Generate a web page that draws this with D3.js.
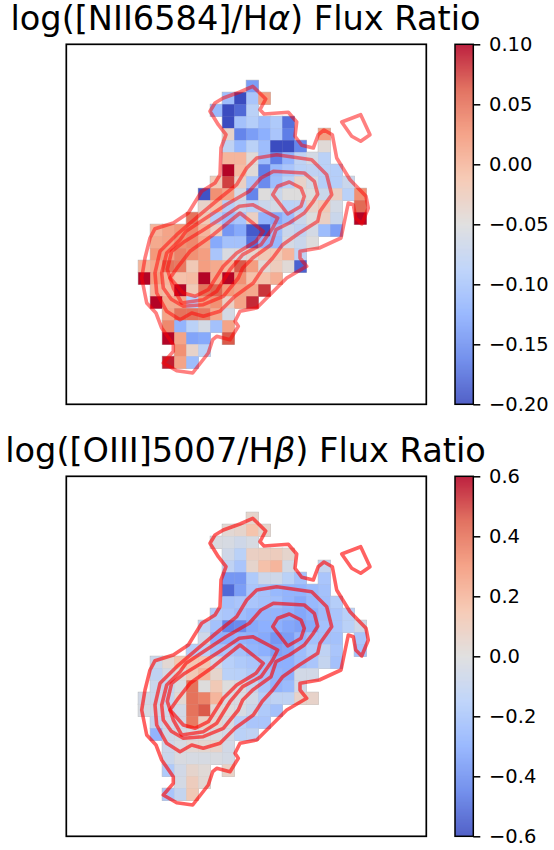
<!DOCTYPE html>
<meta charset="utf-8">
<style>
  body { margin: 0; background: #fff; }
  text { font-family: "DejaVu Sans", sans-serif; fill: #000; }
</style>

<!-- Load d3.js -->
<script src="https://cdnjs.cloudflare.com/ajax/libs/d3/7.8.5/d3.min.js"></script>

<div id="my_dataviz"></div>

<script>

// map cells, one row per entry: [row, first column, values]  (null = no data)
var niiRows = [
  [3, 15, [-0.14]],
  [4, 13, [-0.11, -0.20, -0.10, 0.02]],
  [5, 12, [-0.115, -0.20, -0.18, -0.085]],
  [6, 13, [-0.20, -0.105, -0.09, -0.11, -0.095, -0.175]],
  [7, 13, [-0.035, -0.16, -0.14, -0.125, -0.10, -0.165, null, null, 0.02]],
  [8, 13, [-0.08, -0.115, -0.085, -0.11, -0.20, -0.20, -0.16, null, -0.045]],
  [9, 13, [0.0, 0.0, -0.045, -0.11, -0.165, -0.12, -0.08, -0.06, -0.085]],
  [10, 13, [0.10, -0.005, -0.045, -0.165, -0.115, -0.10, -0.085, -0.08, -0.085, -0.09]],
  [11, 12, [-0.02, 0.075, -0.03, -0.10, -0.155, -0.11, -0.085, -0.035, -0.06, -0.09, -0.09, -0.07]],
  [12, 11, [-0.195, 0.03, 0.015, -0.06, -0.16, -0.05, -0.07, -0.05, -0.05, -0.05, -0.07, -0.03, -0.085, 0.03]],
  [13, 11, [-0.035, -0.01, -0.09, -0.07, -0.085, -0.07, -0.06, -0.085, -0.08, -0.035, -0.02, -0.06, null, 0.055]],
  [14, 10, [0.05, -0.02, -0.09, -0.11, -0.10, -0.03, -0.12, -0.13, -0.11, -0.07, -0.05, -0.03, -0.07, null, 0.10]],
  [15, 7, [0.0, 0.015, 0.025, 0.035, 0.0, -0.03, -0.145, -0.13, -0.19, -0.20, -0.11, -0.07, -0.08, -0.06, -0.11, -0.14]],
  [16, 7, [0.01, 0.015, 0.03, 0.035, 0.01, -0.13, -0.105, -0.105, -0.175, -0.12, -0.115, -0.06, -0.07, -0.05]],
  [17, 7, [0.025, 0.02, 0.04, 0.03, 0.02, -0.10, -0.055, -0.055, -0.04, -0.02, -0.02, 0.0, -0.08]],
  [18, 6, [0.0, 0.01, 0.05, 0.045, -0.02, 0.02, 0.01, 0.0, 0.065, 0.02, -0.045, -0.025, -0.045, -0.185]],
  [19, 6, [0.1, 0.02, 0.0, -0.01, -0.005, 0.1, 0.01, 0.1, 0.03, -0.01, -0.01, 0.005]],
  [20, 7, [0.0, -0.005, 0.1, -0.02, 0.05, 0.06, 0.025, 0.015, 0.01, 0.08]],
  [21, 7, [0.1, 0.01, 0.01, -0.09, 0.02, 0.03, -0.03, 0.015, 0.085]],
  [22, 8, [0.015, 0.05, 0.05, 0.045, 0.01, -0.06]],
  [23, 8, [0.035, -0.12, -0.085, -0.06, -0.105, 0.015]],
  [24, 8, [0.1, 0.015, -0.135, -0.13, null, 0.065]],
  [25, 9, [0.03, -0.035, -0.085]],
  [26, 8, [0.09, 0.015, -0.11]]
];

var oiiiRows = [
  [3, 15, [0.05]],
  [4, 13, [0.03, 0.05, 0.15, 0.05]],
  [5, 12, [-0.02, -0.03, -0.06, -0.03]],
  [6, 13, [-0.06, -0.14, 0.08, 0.09, 0.10, 0.05]],
  [7, 13, [-0.12, -0.20, 0.05, 0.16, 0.20, -0.04, null, null, -0.10]],
  [8, 13, [-0.38, -0.38, -0.18, -0.07, -0.06, -0.14, -0.22, null, -0.20]],
  [9, 13, [-0.52, -0.36, -0.20, -0.22, -0.26, -0.28, -0.28, -0.25, -0.22]],
  [10, 13, [-0.22, -0.20, -0.20, -0.22, -0.23, -0.28, -0.32, -0.26, -0.23, -0.16]],
  [11, 12, [-0.18, -0.20, -0.24, -0.27, -0.28, -0.28, -0.30, -0.33, -0.30, -0.24, -0.20, -0.15]],
  [12, 11, [-0.12, -0.22, -0.44, -0.42, -0.32, -0.30, -0.30, -0.33, -0.35, -0.32, -0.22, -0.20, -0.14, -0.06]],
  [13, 11, [-0.06, -0.30, -0.30, -0.28, -0.30, -0.32, -0.38, -0.36, -0.28, -0.22, -0.22, -0.22, null, -0.20]],
  [14, 10, [-0.16, -0.14, -0.22, -0.20, -0.22, -0.28, -0.30, -0.35, -0.33, -0.24, -0.18, -0.12, -0.20, null, -0.22]],
  [15, 7, [-0.08, 0.03, 0.14, 0.13, 0.13, -0.05, -0.15, -0.18, -0.20, -0.22, -0.30, -0.30, -0.24, -0.20, -0.10, -0.22]],
  [16, 7, [-0.12, -0.04, 0.02, 0.12, 0.20, 0.05, -0.14, -0.15, -0.18, -0.22, -0.28, -0.30, -0.05, -0.05]],
  [17, 7, [-0.08, -0.10, -0.02, 0.40, 0.0, 0.12, 0.0, -0.02, -0.10, -0.20, -0.28, -0.25, -0.05]],
  [18, 6, [-0.05, -0.08, -0.10, 0.03, 0.40, 0.36, 0.20, -0.02, -0.02, -0.05, -0.16, -0.12, -0.12, 0.06, 0.06]],
  [19, 6, [-0.03, -0.06, -0.06, -0.05, 0.40, 0.46, 0.03, 0.0, -0.03, -0.08, -0.18, -0.22]],
  [20, 7, [-0.10, -0.05, -0.05, 0.38, 0.08, 0.03, -0.03, -0.15, -0.20, -0.20]],
  [21, 7, [-0.28, -0.06, -0.04, -0.02, 0.0, -0.02, -0.05, -0.14, -0.12]],
  [22, 8, [-0.07, -0.03, 0.03, 0.04, 0.06, -0.05]],
  [23, 8, [-0.08, -0.02, -0.03, -0.03, -0.02, -0.04]],
  [24, 8, [-0.18, -0.05, 0.05, 0.02, null, 0.07]],
  [25, 9, [-0.04, 0.10, 0.03]],
  [26, 8, [-0.20, -0.10, 0.12]]
];

// contours of the overlaid map, in map units (12 units = 1 cell)
var contourBlob = [[275.4,77.7],[294.4,70.4],[303.7,90.4],[294.4,97],[285.4,92]];
var contour1 = [[186.4,42],[199.4,54.7],[193.7,65.4],[197.7,69.7],[222,68],[230.4,77.7],[228.7,92],[235.4,101],[247,103.7],[252,90.4],[257.7,85.7],[266,90.4],[270.4,113.7],[283.7,135.4],[299.7,152],[302,163.7],[295.4,179.7],[289.4,173.7],[287,160.4],[282,158.7],[274.7,193.7],[253,203.7],[233.7,207],[233.7,213.7],[240.4,222],[220.4,233.7],[190.4,263.7],[173.7,267],[168.7,277],[172,282],[163.7,295.4],[150.4,292],[146.4,295.4],[142,308.7],[126.4,328.7],[110.4,326.4],[97,318.7],[107,307],[107,300.4],[95.4,283.7],[89.7,268.7],[80.4,258.7],[75.4,233.7],[78.7,213.7],[83.7,193.7],[88.7,184.4],[107,178.7],[122,168.7],[135.4,147],[148.7,138.7],[153.7,130.4],[154.7,103.7],[159.7,90.4],[152,80.4],[143.7,67],[148.7,58.7],[157,53.7],[173.7,47.7]];
var contour2 = [[210.4,110.4],[245.4,115.4],[260.4,130.4],[265.4,150.4],[253.7,167],[251.4,177],[233,188.7],[216.4,200.4],[206.4,213.7],[196,225],[187,238.7],[168.7,252],[153.7,267],[137,272],[125.4,268.7],[113.7,275.4],[100.4,267],[90.4,248.7],[88.7,228.7],[93.7,207],[110.4,190.4],[133.7,170.4],[153.7,153.7],[170.4,140.4],[180.4,123.7],[190.4,113.7]];
var contour3 = [[207,127],[220.4,127.7],[238,128.7],[248,137],[251.4,150],[247,157],[238,168.7],[223,178.7],[209.7,185.4],[204.7,200.4],[186.4,213.7],[176.4,223.7],[172,233.7],[157,252],[137,260.4],[117,262],[105,255],[97,243.7],[95.4,228.7],[100.4,208.7],[113.7,195.4],[119.7,187],[159.7,160.4],[183,147],[194.7,133.7]];
var contour4 = [[186.4,160.4],[173,162],[153,175.4],[135,187],[117,198],[105.4,207],[101,225],[107,243.7],[115.4,258.7],[137,255.4],[150.4,247],[163.7,225.4],[176.4,210.4],[194.7,200.4],[206.4,183.7],[211.4,173.7]];
var contour5 = [[173.7,168.7],[197,187],[189.7,197],[170.4,208.7],[157,222],[142,245.4],[128.7,252],[117,248.7],[103.7,233.7],[112,222],[123.7,207],[147,190.4]];
var contourPeak = [[206.4,150.4],[211.4,142],[223,137.7],[234.7,143.7],[238,152],[234.7,162],[221.4,169.7]];
var contours = [contour1, contourBlob, contour2, contour3, contour4, contour5, contourPeak];

var niiTicks = [-0.20, -0.15, -0.10, -0.05, 0.00, 0.05, 0.10];
var oiiiTicks = [-0.6, -0.4, -0.2, 0.0, 0.2, 0.4, 0.6];

// matplotlib coolwarm
var coolwarmStops = ["#3b4cc0", "#6282ea", "#8db0fe", "#b8d0f9", "#dddcdc", "#f5c4ad", "#f4987a", "#de604d", "#b40426"];
var coolwarm = d3.piecewise(d3.interpolateRgb, coolwarmStops);

var svg = d3.select("#my_dataviz").append("svg")
    .attr("width", 554)
    .attr("height", 850)
    .style("display", "block");

function cellsOf(rows) {
  var cells = [];
  rows.forEach(function(r) {
    r[2].forEach(function(v, i) {
      if (v !== null) cells.push({row: r[0], col: r[1] + i, value: v});
    });
  });
  return cells;
}

function drawPanel(top, title, greek, rows, domain, ticks, tickFormat, lineOpacity) {
  var left = 66.3, size = 360;
  var g = svg.append("g");

  var x = d3.scaleLinear().domain([0, 30]).range([left, left + size]);
  var y = d3.scaleLinear().domain([0, 30]).range([top, top + size]);
  var mapX = d3.scaleLinear().domain([0, 360]).range([left, left + size]);
  var mapY = d3.scaleLinear().domain([0, 360]).range([top, top + size]);
  var color = d3.scaleSequential(coolwarm).domain(domain);

  var cells = cellsOf(rows);

  // grey rim round the masked map, then the cells over it
  g.append("g").selectAll("rect")
    .data(cells).enter().append("rect")
      .attr("x", function(d) { return x(d.col); })
      .attr("y", function(d) { return y(d.row); })
      .attr("width", x(1) - x(0))
      .attr("height", y(1) - y(0))
      .attr("fill", "none")
      .attr("stroke", "#b5b5b5")
      .attr("stroke-width", 1);

  g.append("g").selectAll("rect")
    .data(cells).enter().append("rect")
      .attr("x", function(d) { return x(d.col); })
      .attr("y", function(d) { return y(d.row); })
      .attr("width", x(1) - x(0) + 0.3)
      .attr("height", y(1) - y(0) + 0.3)
      .attr("fill", function(d) { return color(d.value); });

  var line = d3.line()
      .x(function(d) { return mapX(d[0]); })
      .y(function(d) { return mapY(d[1]); })
      .curve(d3.curveLinearClosed);

  g.append("g").selectAll("path")
    .data(contours).enter().append("path")
      .attr("d", line)
      .attr("fill", "none")
      .attr("stroke", "#f00")
      .attr("stroke-opacity", lineOpacity)
      .attr("stroke-width", 3.6)
      .attr("stroke-linejoin", "round");

  // axes frame
  g.append("rect")
      .attr("x", left)
      .attr("y", top)
      .attr("width", size)
      .attr("height", size)
      .attr("fill", "none")
      .attr("stroke", "#000")
      .attr("stroke-width", 1.7);

  g.append("text")
      .attr("x", 245.5)
      .attr("y", top - 14.4)
      .attr("text-anchor", "middle")
      .style("font-size", "33.6px")
      .call(function(t) {
        t.append("tspan").text(title[0]);
        t.append("tspan").style("font-style", "italic").text(greek);
        t.append("tspan").text(title[1]);
      });

  // colorbar
  var barLeft = 455, barWidth = 18.3;
  var barScale = d3.scaleLinear().domain(domain).range([top + size, top]);
  var steps = d3.range(0, size);
  g.append("g").selectAll("rect")
    .data(steps).enter().append("rect")
      .attr("x", barLeft)
      .attr("y", function(d) { return top + d; })
      .attr("width", barWidth)
      .attr("height", 1.3)
      .attr("fill", function(d) { return color(barScale.invert(top + d + 0.5)); });

  g.append("rect")
      .attr("x", barLeft)
      .attr("y", top)
      .attr("width", barWidth)
      .attr("height", size)
      .attr("fill", "none")
      .attr("stroke", "#000")
      .attr("stroke-width", 1.5);

  var axis = d3.axisRight(barScale).tickValues(ticks).tickFormat(tickFormat).tickSize(7).tickPadding(8.7);
  var ag = g.append("g")
      .attr("transform", "translate(" + (barLeft + barWidth) + ",0)")
      .call(axis);
  ag.select(".domain").remove();
  ag.selectAll("line").attr("stroke", "#000").attr("stroke-width", 1.5);
  ag.selectAll("text")
      .style("font-family", '"DejaVu Sans", sans-serif')
      .style("font-size", "19.5px");
}

function minusFormat(spec) {
  var f = d3.format(spec);
  return function(d) { return f(d).replace("-", "\u2212"); };
}

drawPanel(44.3, ["log([NII6584]/H", ") Flux Ratio"], "\u03b1", niiRows, [-0.2, 0.1], niiTicks, minusFormat(".2f"), 0.5);
drawPanel(476.3, ["log([OIII]5007/H", ") Flux Ratio"], "\u03b2", oiiiRows, [-0.6, 0.6], oiiiTicks, minusFormat(".1f"), 0.62);

</script>
